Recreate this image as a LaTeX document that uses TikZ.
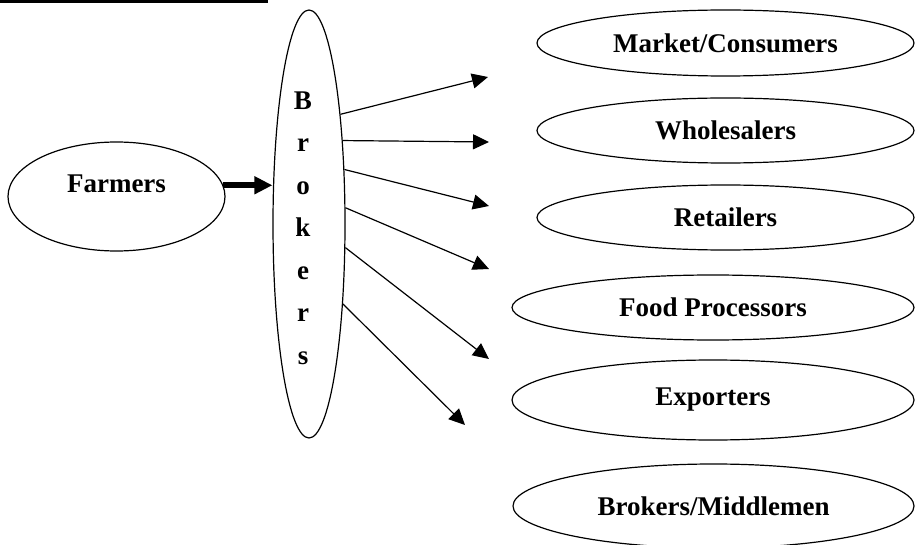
\documentclass[tikz,border=0pt]{standalone}
\usepackage{fontspec}
\setmainfont{Liberation Serif}
\usetikzlibrary{arrows.meta,shapes.geometric}
\begin{document}
\begin{tikzpicture}[
    x=1pt, y=-1pt,
    txt/.style={font=\fontsize{27}{32}\selectfont\bfseries},
    oval/.style={draw, ellipse, line width=1.2pt, inner sep=0pt, txt},
    arr/.style={-{Triangle[length=16pt,width=15pt]}, line width=1.2pt},
    fat/.style={-{Triangle[length=18pt,width=17pt]}, line width=6pt},
  ]
  \useasboundingbox (0,0) rectangle (915,545);
  \fill (0,0) rectangle (268,3);
  \node[oval, minimum width=217pt, minimum height=109pt,
        label={[txt, yshift=13pt]center:Farmers}] (farmers) at (116.5,196.5) {};
  \node[oval, minimum width=72pt, minimum height=428pt,
        label={[txt, align=center, font=\fontsize{27}{42.5}\selectfont\bfseries, xshift=-6pt, yshift=-4pt]center:{B\\r\\o\\k\\e\\r\\s}}] (brokers) at (309,224) {};
  \node[oval, minimum width=377pt, minimum height=66pt] (market) at (725.5,43)    {Market/Consumers};
  \node[oval, minimum width=377pt, minimum height=65pt] (whole)  at (725.5,130.5) {Wholesalers};
  \node[oval, minimum width=377pt, minimum height=65pt] (retail) at (725.5,217.5) {Retailers};
  \node[oval, minimum width=402pt, minimum height=65pt] (food)   at (713,307.5)   {Food Processors};
  \node[oval, minimum width=402pt, minimum height=80pt] (export) at (713,400)     {Exporters};
  \node[oval, minimum width=401pt, minimum height=84pt] (middle) at (713.5,506)   {Brokers/Middlemen};
  \draw[fat] (farmers.6) -- (farmers.6 -| brokers.west);
  % free arrow ends in front of the outlets
  \coordinate (t1) at (488,77);
  \coordinate (t2) at (489,142);
  \coordinate (t3) at (489,206);
  \coordinate (t4) at (489,269);
  \coordinate (t5) at (489,359);
  \coordinate (t6) at (465,425);
  \draw[arr] (brokers.74)  -- (t1);
  \draw[arr] (brokers.68)  -- (t2);
  \draw[arr] (brokers.57)  -- (t3);
  \draw[arr] (brokers.24)  -- (t4);
  \draw[arr] (brokers.-33) -- (t5);
  \draw[arr] (brokers.-67) -- (t6);
\end{tikzpicture}
\end{document}
